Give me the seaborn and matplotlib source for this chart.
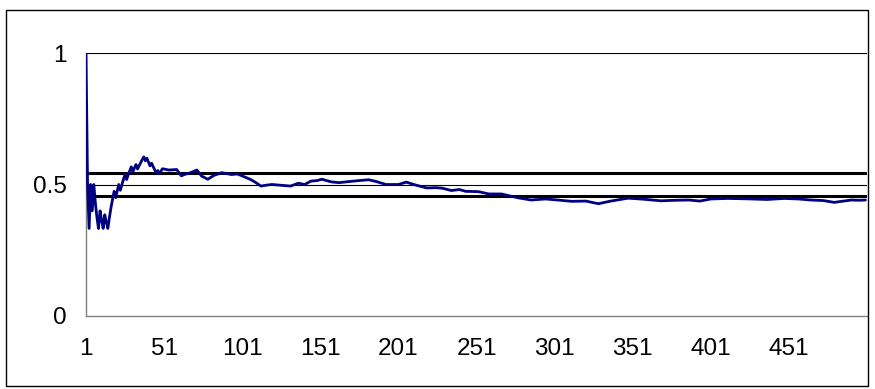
import pandas as pd
import matplotlib.pyplot as plt
import matplotlib.patches as patches
import seaborn as sns

# running proportion (trial number -> proportion)
trials = list(range(1, 51)) + [
    54, 59, 62, 64, 68, 72, 75, 79, 83, 88, 94, 98, 102, 106, 109, 113, 117,
    120, 126, 132, 137, 141, 145, 149, 152, 158, 163, 169, 176, 182, 187, 193,
    201, 206, 212, 219, 225, 229, 235, 240, 244, 252, 259, 267, 272, 278, 286,
    295, 303, 312, 321, 329, 337, 348, 358, 369, 378, 387, 394, 401, 412, 420,
    427, 437, 448, 457, 465, 473, 480, 486, 491, 496, 500]
proportion = [
    1.0, 0.5, 0.333, 0.5, 0.4, 0.5, 0.429, 0.375, 0.333, 0.4,
    0.364, 0.333, 0.385, 0.357, 0.333, 0.375, 0.412, 0.444, 0.474, 0.45,
    0.476, 0.5, 0.478, 0.5, 0.52, 0.538, 0.519, 0.536, 0.552, 0.567,
    0.548, 0.563, 0.576, 0.559, 0.571, 0.583, 0.595, 0.605, 0.59, 0.6,
    0.585, 0.571, 0.581, 0.568, 0.556, 0.543, 0.553, 0.542, 0.551, 0.56,
    0.555, 0.557, 0.533, 0.538, 0.545, 0.555, 0.532, 0.52, 0.535, 0.545,
    0.538, 0.54, 0.53, 0.52, 0.51, 0.494, 0.498, 0.5, 0.497, 0.494,
    0.505, 0.5, 0.513, 0.515, 0.52, 0.51, 0.507, 0.511, 0.515, 0.518,
    0.511, 0.5, 0.5, 0.509, 0.498, 0.487, 0.488, 0.486, 0.477, 0.481,
    0.474, 0.473, 0.464, 0.464, 0.457, 0.449, 0.441, 0.445, 0.441, 0.436,
    0.437, 0.427, 0.437, 0.448, 0.444, 0.438, 0.44, 0.441, 0.437, 0.445,
    0.447, 0.446, 0.445, 0.443, 0.447, 0.445, 0.441, 0.439, 0.432, 0.437,
    0.441, 0.44, 0.441]

upper_limit = 0.5447
lower_limit = 0.4553

x_ticks = [1, 51, 101, 151, 201, 251, 301, 351, 401, 451, 501]
x_labels = ["1", "51", "101", "151", "201", "251", "301", "351", "401", "451", ""]
y_ticks = [0, 0.5, 1]
y_labels = ["0", "0.5", "1"]

df = pd.DataFrame({"Trial": trials, "Proportion": proportion})

sns.set_style("white")
plt.rcParams['font.family'] = ['Liberation Sans', 'DejaVu Sans']

fig = plt.figure(figsize=(8.75, 3.89), dpi=100)
ax = fig.add_axes([86 / 875, 73 / 389, 781 / 875, 263 / 389])

# gridlines at 0.5 and 1
for y in [0.5, 1.0]:
    ax.axhline(y, color="black", lw=0.8, zorder=1)

ax.axhline(upper_limit, color="black", lw=2.2, zorder=2)
ax.axhline(lower_limit, color="black", lw=2.2, zorder=2)

sns.lineplot(data=df, x="Trial", y="Proportion", color="#000080", lw=2, ax=ax, zorder=3)

ax.set_xlim(1, 501)
ax.set_ylim(0, 1)
ax.set_xticks(x_ticks)
ax.set_xticklabels(x_labels)
ax.set_yticks(y_ticks)
ax.set_yticklabels(y_labels)
ax.set_xlabel("")
ax.set_ylabel("")

for side in ["top", "right"]:
    ax.spines[side].set_visible(False)
for side in ["left", "bottom"]:
    ax.spines[side].set_color("#808080")
    ax.spines[side].set_linewidth(1)
ax.tick_params(axis="both", direction="out", length=6, width=1, color="#808080",
               labelsize=17.5, colors="black")
ax.tick_params(axis="x", pad=10)
ax.tick_params(axis="y", pad=8)
for t in ax.get_xticklabels() + ax.get_yticklabels():
    t.set_color("black")

# chart area border
fig.patches.append(patches.Rectangle((6 / 875, 3 / 389), 862 / 875, 376 / 389,
                                     transform=fig.transFigure, fill=False,
                                     edgecolor="black", lw=1))

fig.savefig("out.png", dpi=100)
